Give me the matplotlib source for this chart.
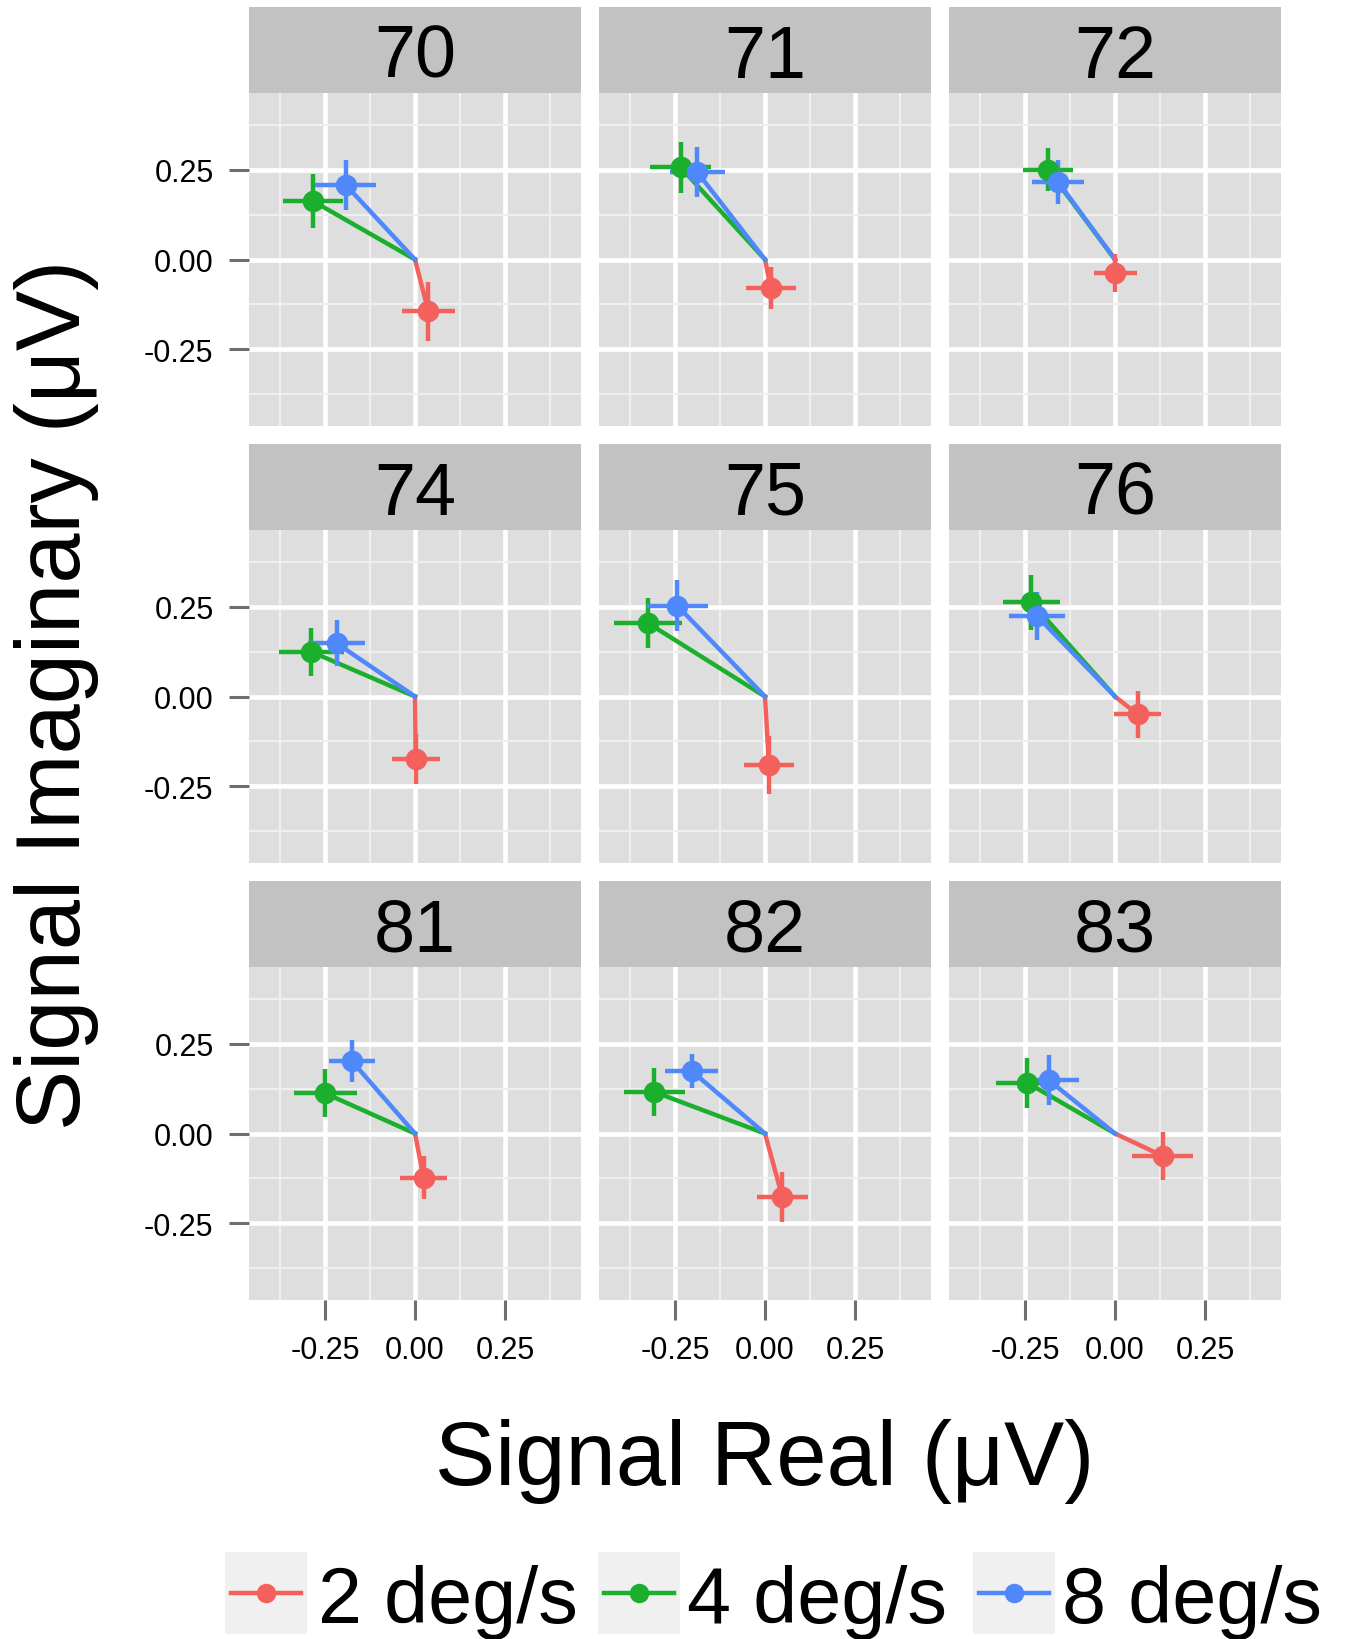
import matplotlib

matplotlib.use("Agg")
import matplotlib.pyplot as plt
from matplotlib.patches import Rectangle

plt.rcParams["font.family"] = ["Liberation Sans", "DejaVu Sans"]

# per-subject mean response (real / imaginary, µV) with error half-widths
subjects = ["70", "71", "72", "74", "75", "76", "81", "82", "83"]
speeds = ["2 deg/s", "4 deg/s", "8 deg/s"]
colors = ["#F4615C", "#1AAF2C", "#4F88FB"]

real_2 = [0.037, 0.016, 0.001, 0.002, 0.011, 0.063, 0.024, 0.048, 0.133]
imag_2 = [-0.145, -0.080, -0.039, -0.175, -0.191, -0.050, -0.124, -0.177, -0.063]
real_err_2 = [0.074, 0.070, 0.060, 0.067, 0.070, 0.066, 0.066, 0.071, 0.085]
imag_err_2 = [0.083, 0.058, 0.053, 0.070, 0.081, 0.065, 0.060, 0.069, 0.067]

real_4 = [-0.283, -0.234, -0.186, -0.288, -0.325, -0.232, -0.249, -0.307, -0.244]
imag_4 = [0.163, 0.257, 0.251, 0.125, 0.205, 0.263, 0.112, 0.116, 0.142]
real_err_4 = [0.083, 0.084, 0.069, 0.091, 0.095, 0.078, 0.088, 0.085, 0.086]
imag_err_4 = [0.076, 0.072, 0.061, 0.067, 0.070, 0.076, 0.067, 0.066, 0.070]

real_8 = [-0.193, -0.188, -0.158, -0.218, -0.243, -0.217, -0.175, -0.204, -0.184]
imag_8 = [0.209, 0.244, 0.217, 0.149, 0.253, 0.225, 0.202, 0.175, 0.149]
real_err_8 = [0.085, 0.077, 0.073, 0.079, 0.084, 0.077, 0.063, 0.073, 0.083]
imag_err_8 = [0.070, 0.069, 0.061, 0.065, 0.071, 0.067, 0.059, 0.047, 0.070]

series = [
    (real_2, imag_2, real_err_2, imag_err_2),
    (real_4, imag_4, real_err_4, imag_err_4),
    (real_8, imag_8, real_err_8, imag_err_8),
]

W, H = 1345, 1640
fig = plt.figure(figsize=(W / 100, H / 100), dpi=100)


def px_axes(left, top, width, height):
    return fig.add_axes([left / W, 1 - (top + height) / H, width / W, height / H])


col_left = [249, 599, 949]
strip_top = [8, 445, 882]
panel_w, panel_h, strip_h = 332, 333, 86
tick_color = "#6F6F6F"

for i, subj in enumerate(subjects):
    row, col = divmod(i, 3)

    strip = px_axes(col_left[col], strip_top[row], panel_w, strip_h)
    strip.set_facecolor("#C2C2C2")
    strip.set_xticks([])
    strip.set_yticks([])
    for sp in strip.spines.values():
        sp.set_visible(False)
    strip.text(0.5, 16 / strip_h, subj, ha="center", va="baseline",
               fontsize=53, transform=strip.transAxes)

    ax = px_axes(col_left[col], strip_top[row] + strip_h, panel_w, panel_h)
    ax.set_facecolor("#DEDEDE")
    ax.set_xlim(-0.461, 0.461)
    ax.set_ylim(-0.465, 0.465)
    ax.set_xticks([-0.25, 0, 0.25])
    ax.set_xticklabels(["-0.25", "0.00", "0.25"])
    ax.set_yticks([-0.25, 0, 0.25])
    ax.set_yticklabels(["-0.25", "0.00", "0.25"])
    ax.set_xticks([-0.375, -0.125, 0.125, 0.375], minor=True)
    ax.set_yticks([-0.375, -0.125, 0.125, 0.375], minor=True)
    ax.grid(which="major", color="white", lw=3.3)
    ax.grid(which="minor", color="#EFEFEF", lw=1.6)
    ax.set_axisbelow(True)
    for sp in ax.spines.values():
        sp.set_visible(False)
    ax.tick_params(which="minor", length=0)
    ax.tick_params(which="major", length=14.5, width=2.2, color=tick_color,
                   labelsize=22, pad=11)
    if row != 2:
        ax.tick_params(axis="x", length=0, labelbottom=False)
    if col != 0:
        ax.tick_params(axis="y", length=0, labelleft=False)

    # path from the origin to each speed's mean
    for (re, im, _, _), c in zip(series, colors):
        ax.plot([0, re[i]], [0, im[i]], color=c, lw=3.2, zorder=2)
    for (re, im, re_err, im_err), c in zip(series, colors):
        ax.errorbar(re[i], im[i], xerr=re_err[i], yerr=im_err[i], fmt="o",
                    ms=14.5, color=c, elinewidth=3.2, capsize=0, zorder=3)

fig.text(765 / W, 1 - 1485 / H, "Signal Real (μV)", ha="center",
         va="baseline", fontsize=65)
fig.text(57 / W, 1 - 695 / H, "Signal Imaginary (μV)", ha="center",
         va="center", rotation=90, fontsize=65)

# legend drawn in pixel space along the bottom
lax = fig.add_axes([0, 0, 1, 1])
lax.set_xlim(0, W)
lax.set_ylim(H, 0)
lax.axis("off")
key_left = [225, 598, 973]
text_left = [318, 687, 1062]
key_w, key_top, key_h = 82, 1553, 82
line_y = 1594
for kx, tx, label, c in zip(key_left, text_left, speeds, colors):
    lax.add_patch(Rectangle((kx, key_top), key_w, key_h, facecolor="#F0F0F0",
                            edgecolor="none"))
    lax.plot([kx + 6, kx + key_w - 6], [line_y, line_y], color=c, lw=3.2)
    lax.plot([kx + key_w / 2], [line_y], "o", color=c, ms=13)
    lax.text(tx, 1623, label, ha="left", va="baseline", fontsize=57)

fig.savefig("out.png", dpi=100)
plt.close(fig)
